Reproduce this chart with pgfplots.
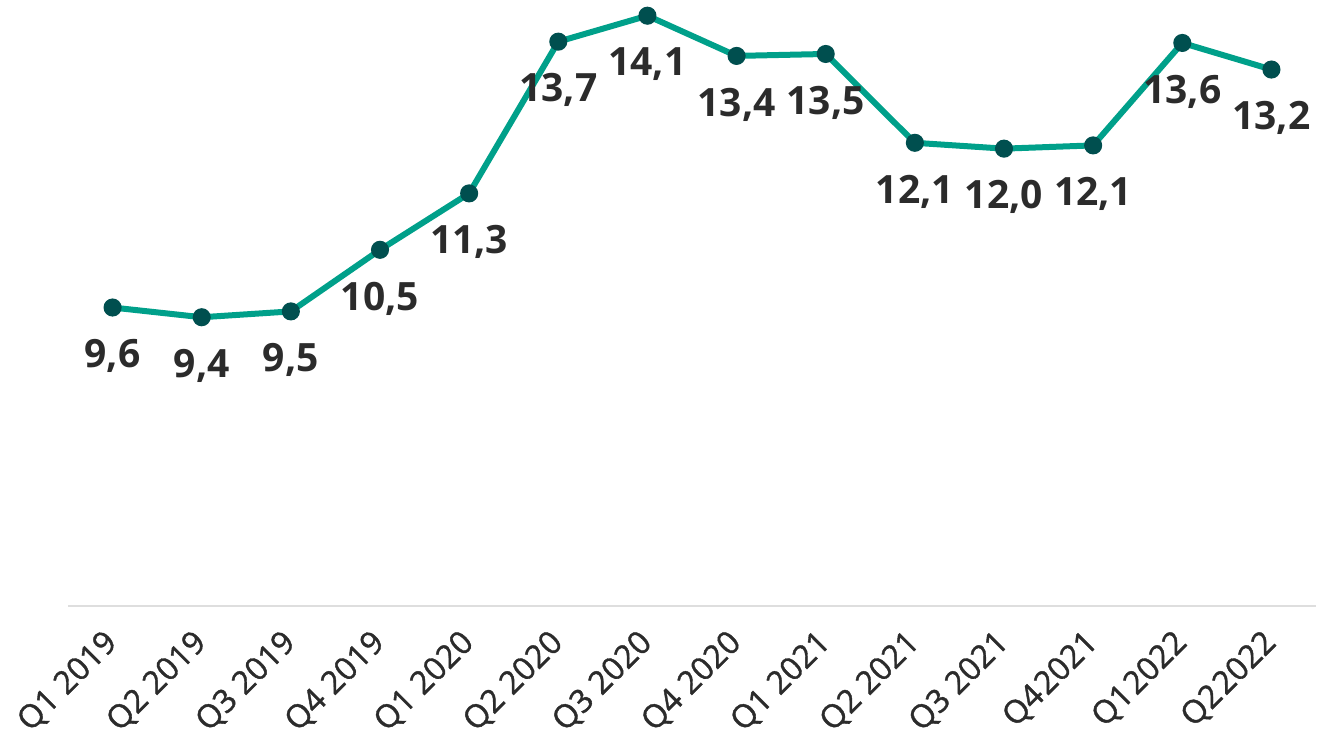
\documentclass[border=0pt]{standalone}
\usepackage{fontspec}
\setmainfont{Open Sans}
\newfontfamily\tickfont[FakeBold=1.2]{Open Sans}
\usepackage{pgfplots}
\pgfplotsset{compat=1.18}
\definecolor{linec}{HTML}{00A08A}
\definecolor{markc}{HTML}{004F4F}
\definecolor{txt}{HTML}{2B2B2B}
\begin{document}
\begin{tikzpicture}
\begin{axis}[
 scale only axis, width=624pt, height=302.5pt,
 xmin=-0.5, xmax=13.5, ymin=5, ymax=14.33,
 axis y line=none, axis x line*=bottom,
 x axis line style={draw=black!13, line width=1pt, -},
 xtick={0,...,13},
 xticklabels={Q1 2019,Q2 2019,Q3 2019,Q4 2019,Q1 2020,Q2 2020,Q3 2020,Q4 2020,Q1 2021,Q2 2021,Q3 2021,Q4\kern1pt2021,Q1\kern1pt2022,Q2\kern1pt2022},
 major tick length=0pt,
 xticklabel style={xshift=0pt, yshift=-16pt, rotate=45, anchor=east, font=\tickfont\fontsize{16}{18}\selectfont, text=txt, inner sep=0pt},
 clip=false,
 nodes near coords, point meta=explicit symbolic,
 nodes near coords style={anchor=north, yshift=-14.5pt, inner sep=0pt, font=\fontsize{19.5}{22}\selectfont\bfseries, text=txt},
]
\addplot[linec, line width=3pt, mark=*, mark size=3pt, mark options={draw=markc, fill=markc}] table[meta=label] {
x y label
0 9.60 {9,6}
1 9.45 {9,4}
2 9.54 {9,5}
3 10.49 {10,5}
4 11.36 {11,3}
5 13.70 {13,7}
6 14.10 {14,1}
7 13.48 {13,4}
8 13.51 {13,5}
9 12.14 {12,1}
10 12.05 {12,0}
11 12.10 {12,1}
12 13.68 {13,6}
13 13.27 {13,2}
};
\coordinate (bl) at (rel axis cs:0,0);
\coordinate (tr) at (rel axis cs:1,1);
\end{axis}
\pgfresetboundingbox
\path ([shift={(-34pt,-63.5pt)}]bl) rectangle ([shift={(8pt,0.4pt)}]tr);
\end{tikzpicture}
\end{document}
